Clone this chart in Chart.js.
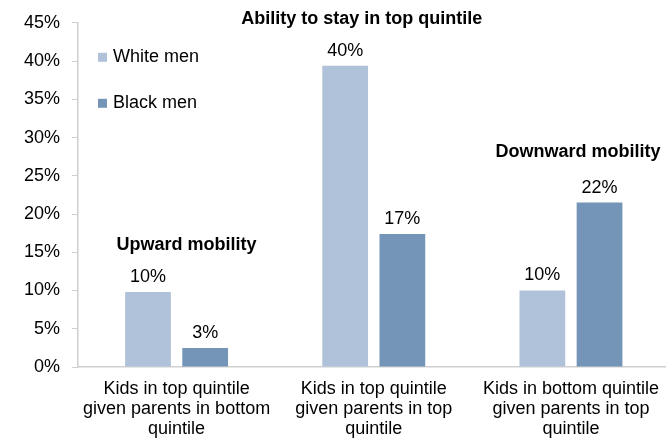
<!DOCTYPE html>
<html>
<head>
<meta charset="utf-8">
<script src="https://cdn.jsdelivr.net/npm/chart.js@4/dist/chart.umd.min.js"></script>
<style>
  html, body { margin: 0; padding: 0; background: #fff; overflow: hidden; }
  #wrap { width: 671px; height: 441px; position: relative; }
</style>
</head>
<body>
<div id="wrap"><canvas id="mobilityChart"></canvas></div>
<script>
(function () {
  'use strict';

  const categories = [
    ['Kids in top quintile', 'given parents in bottom', 'quintile'],
    ['Kids in top quintile', 'given parents in top', 'quintile'],
    ['Kids in bottom quintile', 'given parents in top', 'quintile']
  ];
  const whiteMen = [9.8, 39.4, 10.0];
  const blackMen = [2.5, 17.4, 21.5];
  const whiteLabels = ['10%', '40%', '10%'];
  const blackLabels = ['3%', '17%', '22%'];
  const seriesNames = ['White men', 'Black men'];
  const notes = ['Upward mobility', 'Ability to stay in top quintile', 'Downward mobility'];

  const FONT = 'Arial, "Liberation Sans", sans-serif';
  const light = '#b0c2d9';
  const dark = '#7494b8';

  // value labels over each bar
  const barLabels = {
    id: 'barLabels',
    afterDatasetsDraw(chart) {
      const ctx = chart.ctx;
      const texts = [whiteLabels, blackLabels];
      ctx.save();
      ctx.font = '18px ' + FONT;
      ctx.fillStyle = '#000';
      ctx.textAlign = 'center';
      ctx.textBaseline = 'middle';
      chart.data.datasets.forEach((ds, i) => {
        chart.getDatasetMeta(i).data.forEach((bar, j) => {
          ctx.fillText(texts[i][j], bar.x, bar.y - 15);
        });
      });
      ctx.restore();
    }
  };

  // legend inside plot + bold group notes
  const extras = {
    id: 'extras',
    afterDraw(chart) {
      const ctx = chart.ctx;
      const a = chart.chartArea;
      const x = chart.scales.x;
      const y = chart.scales.y;
      ctx.save();
      ctx.textBaseline = 'middle';
      ctx.font = '18px ' + FONT;
      chart.data.datasets.forEach((ds, i) => {
        const top = a.top + 30 + i * 46;
        ctx.fillStyle = ds.backgroundColor;
        ctx.fillRect(a.left + 20, top, 9, 9);
        ctx.fillStyle = '#000';
        ctx.textAlign = 'left';
        ctx.fillText(seriesNames[i], a.left + 35, top + 4);
      });
      ctx.font = 'bold 18px ' + FONT;
      ctx.textAlign = 'center';
      ctx.fillText(notes[0], x.getPixelForValue(0) + 10, y.getPixelForValue(16));
      ctx.fillText(notes[1], x.getPixelForValue(1) - 12, a.top - 4);
      ctx.fillText(notes[2], x.getPixelForValue(2) + 7, y.getPixelForValue(28.1));
      ctx.restore();
    }
  };

  const ctx = document.getElementById('mobilityChart').getContext('2d');
  new Chart(ctx, {
    type: 'bar',
    data: {
      labels: categories,
      datasets: [
        { label: seriesNames[0], data: whiteMen, backgroundColor: light },
        { label: seriesNames[1], data: blackMen, backgroundColor: dark }
      ]
    },
    options: {
      responsive: true,
      maintainAspectRatio: false,
      animation: false,
      categoryPercentage: 0.58,
      barPercentage: 0.8,
      layout: { padding: { top: 21, right: 0, left: 0, bottom: 0 } },
      plugins: {
        legend: { display: false },
        tooltip: { enabled: false }
      },
      scales: {
        x: {
          grid: { display: false, drawTicks: false },
          border: { display: true, color: '#d0d0d0', width: 1.5 },
          ticks: {
            color: '#000',
            padding: 12,
            maxRotation: 0,
            autoSkip: false,
            font: { family: FONT, size: 18, lineHeight: 1.11 }
          },
          afterFit(s) { s.height = 74; }
        },
        y: {
          min: 0,
          max: 45,
          grid: { drawOnChartArea: false, drawTicks: true, tickLength: 6, color: '#d0d0d0' },
          border: { display: true, color: '#d0d0d0', width: 1.5 },
          ticks: {
            stepSize: 5,
            color: '#000',
            padding: 12,
            font: { family: FONT, size: 18 },
            callback: v => v + '%'
          },
          afterFit(s) { s.width = 78; }
        }
      }
    },
    plugins: [barLabels, extras]
  });
})();
</script>
</body>
</html>
